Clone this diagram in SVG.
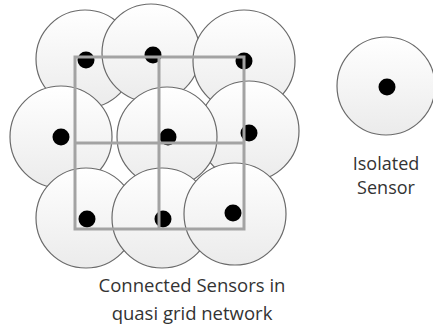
<svg xmlns="http://www.w3.org/2000/svg" width="433" height="326" viewBox="0 0 433 326">
  <defs>
    <linearGradient id="range" x1="0" y1="0" x2="0" y2="1">
      <stop offset="0" stop-color="#ffffff"/>
      <stop offset="1" stop-color="#ebebeb"/>
    </linearGradient>
    <style>
      .range { fill: url(#range); stroke: #6a6a6a; stroke-width: 1.2; }
      .dot { fill: #000000; }
      .link { fill: none; stroke: #a3a3a3; stroke-width: 3; }
      .label { font-family: "Open Sans", "Liberation Sans", sans-serif; font-size: 18px; fill: #333333; text-anchor: middle; }
      .caption { font-size: 18.5px; }
    </style>
  </defs>
  <rect width="433" height="326" fill="#ffffff"/>

  <!-- sensing ranges, back to front -->
  <g id="sensor-r1c1"><circle class="range" cx="85" cy="59" r="49"/></g>
  <g id="sensor-r1c2"><circle class="range" cx="151" cy="53" r="49"/></g>
  <g id="sensor-r1c3"><circle class="range" cx="244" cy="61" r="51"/></g>
  <g id="sensor-r2c3"><circle class="range" cx="249" cy="131" r="50"/></g>
  <g id="sensor-r2c2"><circle class="range" cx="167" cy="137" r="50"/></g>
  <g id="sensor-r2c1"><circle class="range" cx="61" cy="137" r="51"/></g>
  <g id="sensor-r3c1"><circle class="range" cx="86" cy="218" r="50"/></g>
  <g id="sensor-r3c2"><circle class="range" cx="162" cy="218" r="50"/></g>
  <g id="sensor-r3c3"><circle class="range" cx="235" cy="214" r="51"/></g>

  <!-- sensor positions -->
  <g id="sensor-dots">
    <circle class="dot" cx="86" cy="60" r="8.5"/>
    <circle class="dot" cx="153" cy="55" r="8.5"/>
    <circle class="dot" cx="244" cy="61" r="8.5"/>
    <circle class="dot" cx="61" cy="137" r="8.5"/>
    <circle class="dot" cx="168" cy="137" r="8.5"/>
    <circle class="dot" cx="249" cy="133" r="8.5"/>
    <circle class="dot" cx="87" cy="219" r="8.5"/>
    <circle class="dot" cx="163" cy="219" r="8.5"/>
    <circle class="dot" cx="233" cy="213" r="8.5"/>
  </g>

  <!-- quasi grid links -->
  <g id="connectors">
    <rect class="link" x="75" y="57" width="169" height="172"/>
    <line class="link" x1="159" y1="57" x2="159" y2="229"/>
    <line class="link" x1="75" y1="143" x2="244" y2="143"/>
  </g>

  <g id="isolated-sensor">
    <circle class="range" cx="386" cy="86" r="49"/>
    <circle class="dot" cx="387" cy="87" r="8.5"/>
    <text class="label" x="386" y="170">Isolated</text>
    <text class="label" x="386" y="194">Sensor</text>
  </g>

  <g id="caption">
    <text class="label caption" x="192" y="292">Connected Sensors in</text>
    <text class="label caption" x="192" y="320">quasi grid network</text>
  </g>
</svg>
